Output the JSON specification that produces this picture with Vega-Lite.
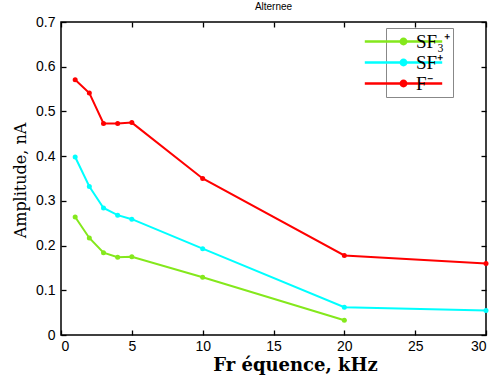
{
  "$schema": "https://vega.github.io/schema/vega-lite/v6.json",
  "width": 425,
  "height": 313,
  "autosize": {"type": "none"},
  "padding": {"left": 61, "top": 22, "right": 10, "bottom": 44},
  "background": "white",
  "title": {"text": "Alternee", "font": "Liberation Sans", "fontSize": 10, "fontWeight": "normal", "color": "black", "anchor": "middle", "offset": 3},
  "config": {
    "view": {"stroke": "black", "strokeWidth": 1.5},
    "axis": {"labelFont": "Liberation Sans", "labelFontSize": 14, "labelColor": "black", "domainColor": "black", "tickColor": "black", "grid": false, "titleColor": "black", "tickWidth": 1.3, "domainWidth": 1.5}
  },
  "data": {"values": [
    {"f": 1, "a": 0.264, "s": "SF₃⁺"},
    {"f": 2, "a": 0.217, "s": "SF₃⁺"},
    {"f": 3, "a": 0.184, "s": "SF₃⁺"},
    {"f": 4, "a": 0.174, "s": "SF₃⁺"},
    {"f": 5, "a": 0.175, "s": "SF₃⁺"},
    {"f": 10, "a": 0.129, "s": "SF₃⁺"},
    {"f": 20, "a": 0.033, "s": "SF₃⁺"},
    {"f": 1, "a": 0.398, "s": "SF⁺"},
    {"f": 2, "a": 0.332, "s": "SF⁺"},
    {"f": 3, "a": 0.284, "s": "SF⁺"},
    {"f": 4, "a": 0.268, "s": "SF⁺"},
    {"f": 5, "a": 0.259, "s": "SF⁺"},
    {"f": 10, "a": 0.193, "s": "SF⁺"},
    {"f": 20, "a": 0.062, "s": "SF⁺"},
    {"f": 30, "a": 0.055, "s": "SF⁺"},
    {"f": 1, "a": 0.571, "s": "F⁻"},
    {"f": 2, "a": 0.541, "s": "F⁻"},
    {"f": 3, "a": 0.473, "s": "F⁻"},
    {"f": 4, "a": 0.473, "s": "F⁻"},
    {"f": 5, "a": 0.475, "s": "F⁻"},
    {"f": 10, "a": 0.350, "s": "F⁻"},
    {"f": 20, "a": 0.178, "s": "F⁻"},
    {"f": 30, "a": 0.160, "s": "F⁻"}
  ]},
  "resolve": {"axis": {"x": "independent", "y": "independent"}},
  "layer": [
    {
      "mark": {"type": "line", "strokeWidth": 2, "clip": false},
      "encoding": {
        "x": {"field": "f", "type": "quantitative", "scale": {"domain": [0, 30], "nice": false, "zero": false},
              "axis": {"orient": "bottom", "values": [0, 5, 10, 15, 20, 25, 30], "offset": -5, "tickSize": 5, "domain": false, "labelPadding": 4,
                       "title": "Fr équence, kHz", "titleFont": "DejaVu Serif", "titleFontSize": 18, "titleFontWeight": "bold", "titlePadding": 3, "titleX": 234}},
        "y": {"field": "a", "type": "quantitative", "scale": {"domain": [0, 0.7], "nice": false, "zero": false},
              "axis": {"orient": "left", "values": [0, 0.1, 0.2, 0.3, 0.4, 0.5, 0.6, 0.7], "format": "~g", "offset": -5, "tickSize": 5, "domain": false, "labelPadding": 6,
                       "title": "Amplitude, nA", "titleFont": "DejaVu Serif", "titleFontSize": 16, "titleFontWeight": "normal", "titlePadding": 7, "titleY": 158}},
        "color": {"field": "s", "type": "nominal",
                  "scale": {"domain": ["SF₃⁺", "SF⁺", "F⁻"], "range": ["#84e81c", "#00ffff", "#ff0000"]},
                  "legend": {"title": null, "orient": "none", "legendX": 325, "legendY": 6, "strokeColor": "#888888", "fillColor": "white", "padding": 3,
                             "labelFont": "Liberation Serif", "labelFontSize": 19, "labelColor": "black", "labelOffset": 2, "symbolOffset": 4,
                             "symbolType": "M-4.3,0H4.3M-0.3,0A0.3,0.3,0,1,1,0.3,0A0.3,0.3,0,1,1,-0.3,0", "symbolSize": 324, "symbolStrokeWidth": 2.5, "rowPadding": 0}}
      }
    },
    {
      "mark": {"type": "point", "filled": true, "size": 25, "opacity": 1, "clip": false},
      "encoding": {
        "x": {"field": "f", "type": "quantitative",
              "axis": {"orient": "top", "values": [0, 5, 10, 15, 20, 25, 30], "offset": -5, "tickSize": 5, "labels": false, "domain": false, "title": null}},
        "y": {"field": "a", "type": "quantitative",
              "axis": {"orient": "right", "values": [0, 0.1, 0.2, 0.3, 0.4, 0.5, 0.6, 0.7], "offset": -5, "tickSize": 5, "labels": false, "domain": false, "title": null}},
        "color": {"field": "s", "type": "nominal"}
      }
    }
  ]
}
